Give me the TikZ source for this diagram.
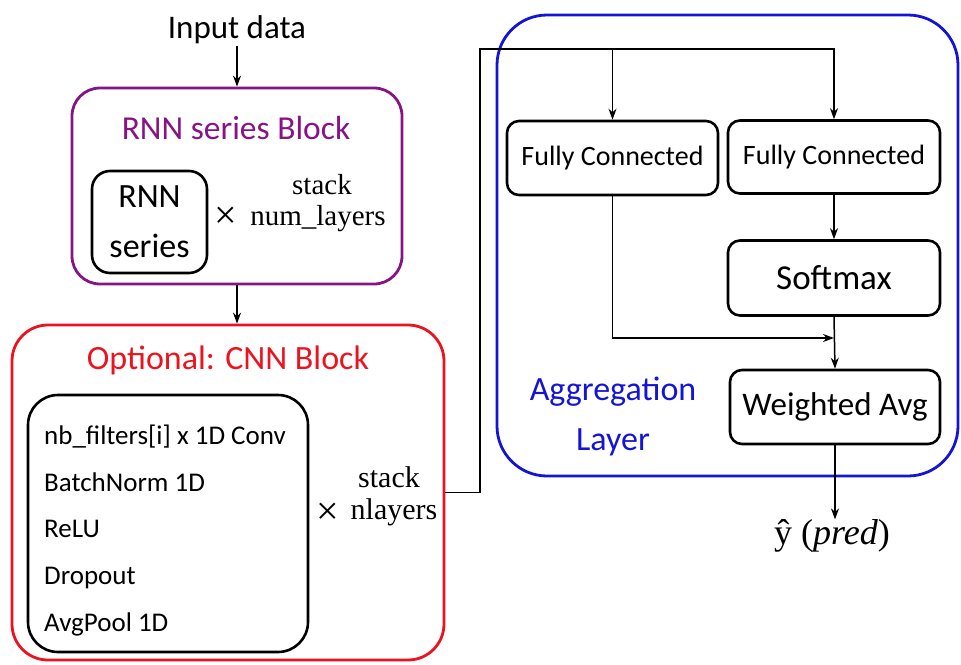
\documentclass[tikz,border=0pt]{standalone}
\usepackage{fontspec}
\setmainfont{Carlito}
\newfontfamily\serifx{Liberation Serif}
\usetikzlibrary{arrows.meta}
\definecolor{purpC}{RGB}{135,20,135}
\definecolor{redC}{RGB}{235,20,30}
\definecolor{blueC}{RGB}{20,20,215}
\tikzset{
  blk/.style={draw, line width=2.6pt, rounded corners=12pt, inner sep=0pt, anchor=center},
  grp/.style={draw, line width=2.8pt, inner sep=0pt, anchor=center},
  arr/.style={-{Stealth[length=11pt,width=8pt]}, line width=1.5pt},
  txt/.style={inner sep=0pt, anchor=center},
}
\begin{document}
\begin{tikzpicture}[x=1pt,y=-1pt]
\useasboundingbox (0,0) rectangle (961,664);
% input
\node[txt, font=\fontsize{33}{36}\selectfont] (inp) at (237,30) {Input data};
% RNN block
\node[grp, draw=purpC, rounded corners=28pt, minimum width=330pt, minimum height=196pt] (rnn) at (237,186) {};
\node[txt, text=purpC, font=\fontsize{33.5}{36}\selectfont] (rnnt) at (236,128) {RNN series Block};
\node[blk, rounded corners=18pt, minimum width=115pt, minimum height=102pt, align=center, font=\fontsize{34}{50}\selectfont] (rnnbox) at (149.5,222) {RNN\\series};
\node[txt, font=\serifx\fontsize{40}{40}\selectfont] (x1) at (226,218) {×};
\node[txt, font=\serifx\fontsize{29}{32}\selectfont] (st1) at (322,185) {stack};
\node[txt, font=\serifx\fontsize{29}{32}\selectfont] (nl1) at (318,219) {num\_layers};
% CNN block
\node[grp, draw=redC, rounded corners=36pt, minimum width=432pt, minimum height=335pt] (cnn) at (228,492.5) {};
\node[txt, text=redC, font=\fontsize{34}{36}\selectfont] (cnnt) at (228,360) {Optional: CNN Block};
\node[blk, rounded corners=30pt, minimum width=280pt, minimum height=257pt] (cnnbox) at (168,523.5) {};
\node[inner sep=0pt, anchor=base west, font=\fontsize{27}{30}\selectfont] (l1) at (44,444) {nb\_filters[i] x 1D Conv};
\node[inner sep=0pt, anchor=base west, font=\fontsize{27}{30}\selectfont] (l2) at (44,491) {BatchNorm 1D};
\node[inner sep=0pt, anchor=base west, font=\fontsize{27}{30}\selectfont] (l3) at (44,537) {ReLU};
\node[inner sep=0pt, anchor=base west, font=\fontsize{27}{30}\selectfont] (l4) at (44,584) {Dropout};
\node[inner sep=0pt, anchor=base west, font=\fontsize{27}{30}\selectfont] (l5) at (44,631) {AvgPool 1D};
\node[txt, font=\serifx\fontsize{30}{32}\selectfont] (st2) at (389,477) {stack};
\node[txt, font=\serifx\fontsize{40}{40}\selectfont] (x2) at (328,514) {×};
\node[txt, font=\serifx\fontsize{30}{32}\selectfont] (nl2) at (394,512) {nlayers};
% Aggregation
\node[grp, draw=blueC, rounded corners=50pt, minimum width=461pt, minimum height=461pt] (agg) at (727.5,245.5) {};
\node[txt, text=blueC, align=center, font=\fontsize{34}{50}\selectfont] (aggt) at (613,416) {Aggregation\\Layer};
\node[blk, minimum width=211pt, minimum height=74pt, font=\fontsize{28}{30}\selectfont] (fc1) at (612.5,158) {Fully Connected};
\node[blk, minimum width=212pt, minimum height=73pt, font=\fontsize{28}{30}\selectfont] (fc2) at (834,157) {Fully Connected};
\node[blk, minimum width=212pt, minimum height=75pt, font=\fontsize{35}{36}\selectfont] (soft) at (834,278) {Softmax};
\node[blk, minimum width=210pt, minimum height=74pt, font=\fontsize{33}{36}\selectfont] (wa) at (835,407) {Weighted Avg};
\node[txt, font=\serifx\fontsize{36}{38}\selectfont] (pred) at (832,536) {ŷ (\textit{pred})};
% connectors
\coordinate (turn) at (480,49);
\coordinate (join) at (834,338);
\draw[arr] (inp.south) ++(0,2) -- (rnn.north);
\draw[arr] (rnn.south) -- (rnn.south |- cnn.north);
\draw[arr] (cnn.east) -| (turn) -| (fc2.north);
\draw[arr] (fc1.north |- turn) -- (fc1.north);
\draw[arr] (fc2.south) -- (soft.north);
\draw[arr] (soft.south) -- (wa.north);
\draw[arr] (fc1.south) |- (join);
\draw[arr] (wa.south) -- (wa.south |- pred.north);
\end{tikzpicture}
\end{document}
